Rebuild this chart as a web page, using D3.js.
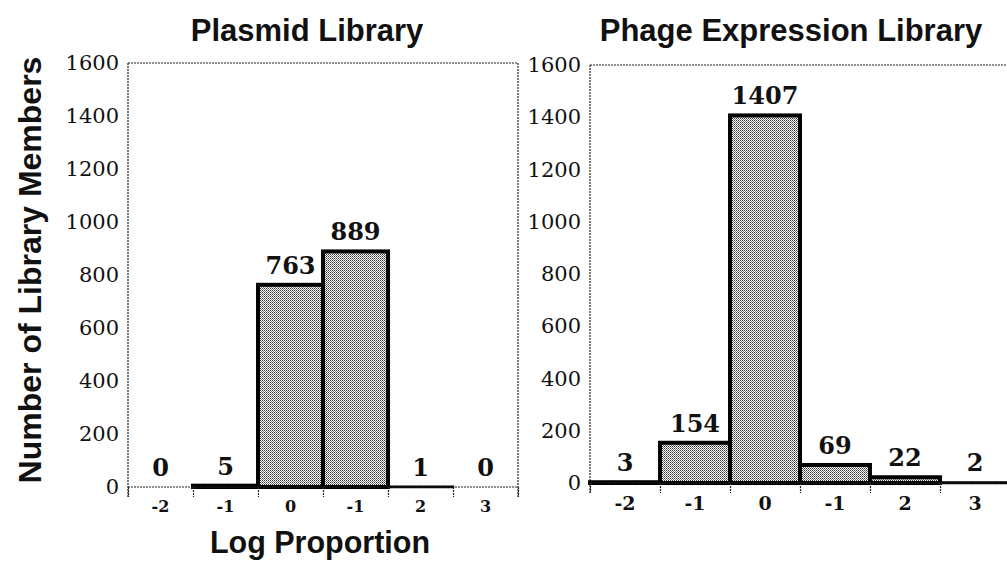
<!DOCTYPE html>
<html>
<head>
<meta charset="utf-8">
<script src="https://cdn.jsdelivr.net/npm/d3@7"></script>
<style>
  html, body { margin: 0; padding: 0; background: #fff; }
  svg { display: block; }
</style>
</head>
<body>
<svg id="chart" width="1007" height="565"></svg>
<script>
// ---- data ----
const binIndex = [0, 1, 2, 3, 4, 5];
const tickLabels = ["-2", "-1", "0", "-1", "2", "3"];
const plasmidValues = [0, 5, 763, 889, 1, 0];
const phageValues = [3, 154, 1407, 69, 22, 2];
const yTicks = [0, 200, 400, 600, 800, 1000, 1200, 1400, 1600];
const titles = ["Plasmid Library", "Phage Expression Library"];
const yTitle = "Number of Library Members";
const xTitle = "Log Proportion";

const svg = d3.select("#chart");
const defs = svg.append("defs");
const pat = defs.append("pattern").attr("id", "dots")
  .attr("width", 2).attr("height", 2).attr("patternUnits", "userSpaceOnUse");
pat.append("rect").attr("width", 2).attr("height", 2).attr("fill", "#fff");
pat.append("rect").attr("x", 0).attr("y", 0).attr("width", 1).attr("height", 1).attr("fill", "#333");
pat.append("rect").attr("x", 1).attr("y", 1).attr("width", 1).attr("height", 1).attr("fill", "#777");

const panels = [
  { values: plasmidValues, x0: 128, x1: 518, yTop: 63, yBase: 487, title: titles[0], titleX: 307, xLabelSize: 16, frameRight: true },
  { values: phageValues, x0: 590, x1: 1010, yTop: 65, yBase: 483, title: titles[1], titleX: 791, xLabelSize: 19, frameRight: false }
];

const lineStyle = sel => sel.attr("stroke", "#222").attr("stroke-width", 1.2).attr("stroke-dasharray", "2 1");

panels.forEach(p => {
  const g = svg.append("g");
  const x = d3.scaleBand().domain(binIndex).range([p.x0, p.x1]).paddingInner(0).paddingOuter(0);
  const xb = d3.scaleLinear().domain([0, 6]).range([p.x0, p.x1]);
  const y = d3.scaleLinear().domain([0, 1600]).range([p.yBase, p.yTop]);

  // frame lines
  g.append("line").attr("x1", p.x0).attr("x2", p.x1).attr("y1", p.yTop).attr("y2", p.yTop).call(lineStyle);
  if (p.frameRight) {
    g.append("line").attr("x1", p.x1).attr("x2", p.x1).attr("y1", p.yTop).attr("y2", p.yBase + 10).call(lineStyle);
  }
  g.append("line").attr("x1", p.x0).attr("x2", p.x0).attr("y1", p.yTop).attr("y2", p.yBase + 10).call(lineStyle);

  // y axis labels
  const ya = g.append("g").attr("transform", `translate(${p.x0},0)`)
    .call(d3.axisLeft(y).tickValues(yTicks).tickSize(0).tickPadding(9).tickFormat(d3.format("d")));
  ya.select(".domain").remove();
  ya.selectAll("text").attr("font-family", "'DejaVu Serif', serif").attr("font-size", 21)
    .attr("fill", "#111");

  // bars
  g.selectAll("rect.bar").data(p.values.map((v, i) => ({ v, i })).filter(d => d.v > 0))
    .join("rect").attr("class", "bar")
    .attr("x", d => x(d.i)).attr("width", x.bandwidth())
    .attr("y", d => y(d.v)).attr("height", d => y(0) - y(d.v))
    .attr("fill", "url(#dots)").attr("stroke", "#000")
    .attr("stroke-width", d => d.v < 3 ? 2.5 : 4);

  // baseline
  g.append("line").attr("x1", p.x0).attr("x2", p.x1).attr("y1", p.yBase).attr("y2", p.yBase).call(lineStyle);

  // boundary ticks
  const bt = g.append("g").attr("transform", `translate(0,${p.yBase})`)
    .call(d3.axisBottom(xb).tickValues(d3.range(0, 7)).tickSize(10).tickFormat(""));
  bt.select(".domain").remove();
  bt.selectAll("line").call(lineStyle);

  // x tick labels
  const xa = g.append("g").attr("transform", `translate(0,${p.yBase})`)
    .call(d3.axisBottom(x).tickSize(0).tickPadding(14).tickFormat(i => tickLabels[i]));
  xa.select(".domain").remove();
  xa.selectAll("text").attr("font-family", "'DejaVu Serif', serif").attr("font-weight", "bold")
    .attr("font-size", p.xLabelSize).attr("fill", "#111");

  // value labels
  g.selectAll("text.val").data(p.values.map((v, i) => ({ v, i })))
    .join("text").attr("class", "val")
    .attr("x", d => x(d.i) + x.bandwidth() / 2)
    .attr("y", d => y(d.v) - 11)
    .attr("text-anchor", "middle")
    .attr("font-family", "'DejaVu Serif', serif").attr("font-weight", "bold")
    .attr("font-size", 24).attr("fill", "#111")
    .text(d => d.v);

  // title
  svg.append("text").attr("x", p.titleX).attr("y", 41).attr("text-anchor", "middle")
    .attr("font-family", "'Liberation Sans', Arial, sans-serif").attr("font-weight", "bold")
    .attr("font-size", 31).attr("fill", "#111").text(p.title);
});

// axis titles
svg.append("text").attr("transform", "translate(41,270) rotate(-90)").attr("text-anchor", "middle")
  .attr("font-family", "'Liberation Sans', Arial, sans-serif").attr("font-weight", "bold")
  .attr("font-size", 32).attr("fill", "#111").text(yTitle);
svg.append("text").attr("x", 320).attr("y", 553).attr("text-anchor", "middle")
  .attr("font-family", "'Liberation Sans', Arial, sans-serif").attr("font-weight", "bold")
  .attr("font-size", 30.5).attr("fill", "#111").text(xTitle);
</script>
</body>
</html>
